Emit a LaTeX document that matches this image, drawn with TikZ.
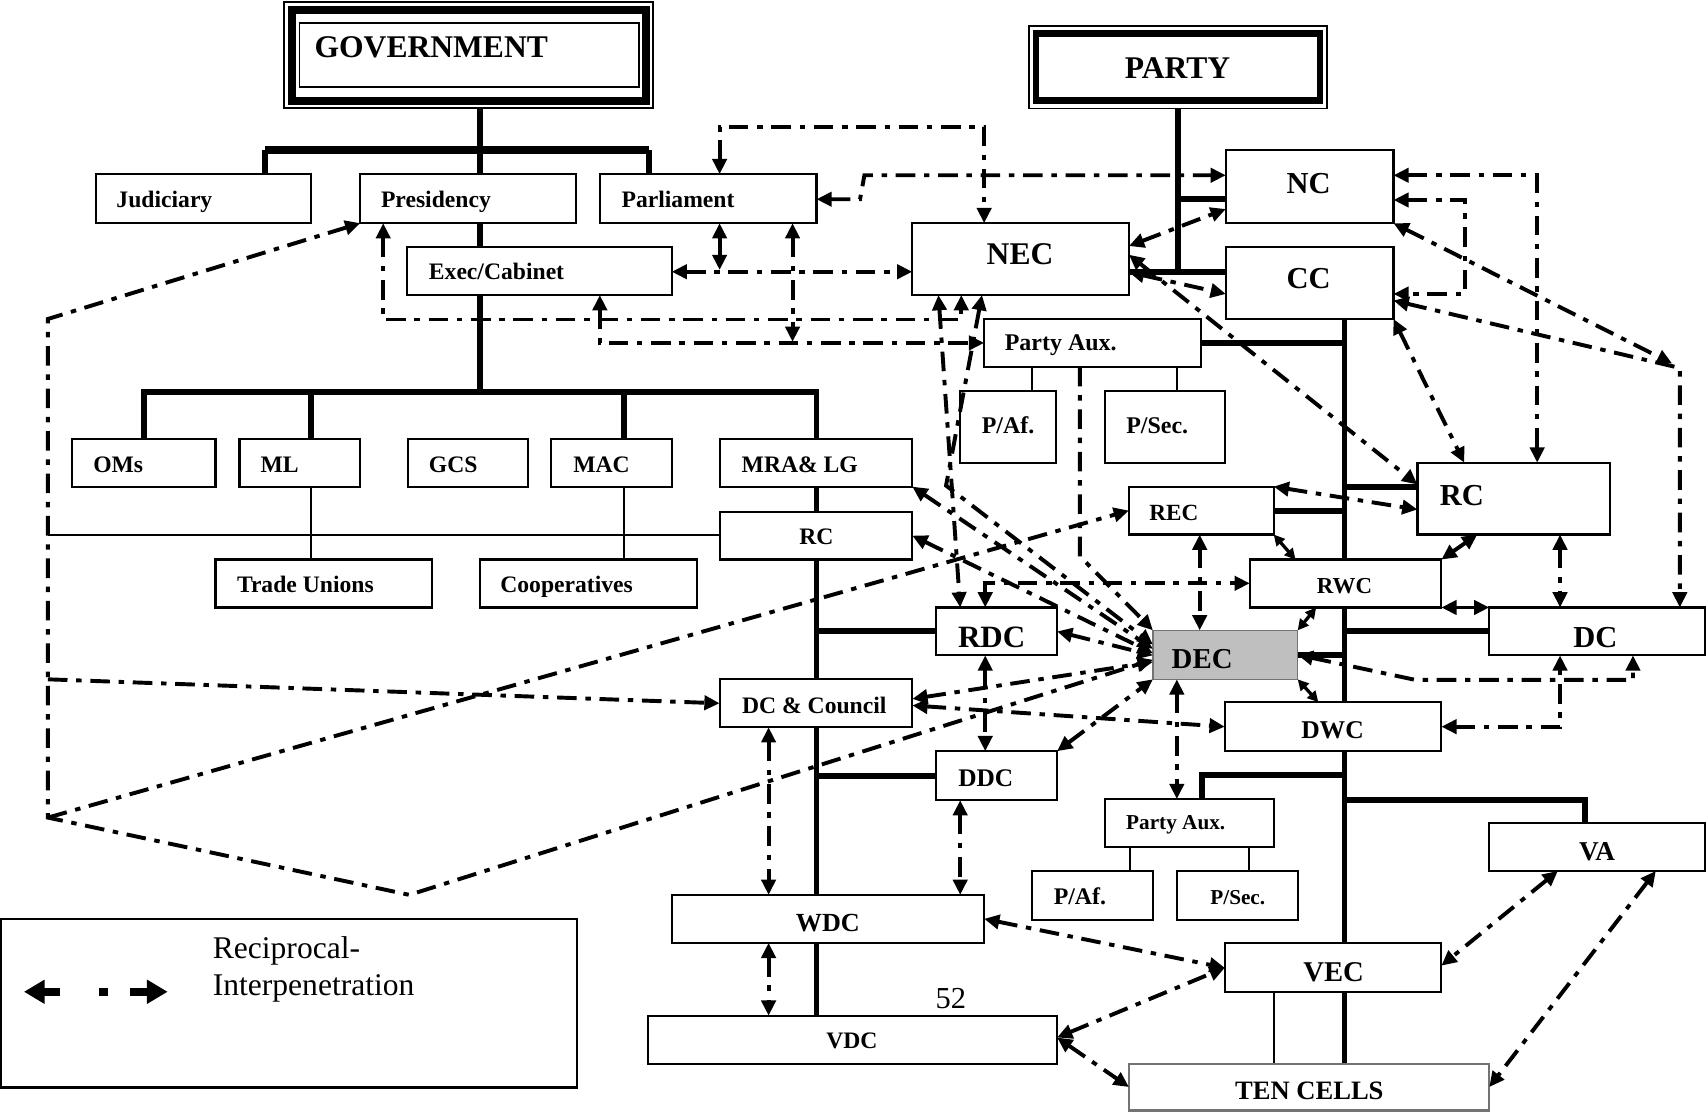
\documentclass[tikz,border=0pt]{standalone}
\usepackage{fontspec}
\setmainfont{Liberation Serif}
\usetikzlibrary{arrows.meta,fit,backgrounds}
\begin{document}
\begin{tikzpicture}[x=1pt,y=-1pt,
  box/.style={draw, line width=2pt, fill=white, inner sep=0pt, outer sep=0pt},
  trunk/.style={line width=5.5pt},
  tline/.style={line width=1.6pt},
  cn/.style={line width=3.6pt, dash pattern=on 18pt off 8pt on 5pt off 8pt},
  shortcn/.style={line width=3pt, >={Triangle[length=10pt,width=10pt]}},
  >={Triangle[length=14pt,width=13pt]},
  tb/.style={font=\fontsize{#1}{#1}\selectfont\bfseries, inner sep=0pt, outer sep=0pt},
  tr/.style={font=\fontsize{#1}{#1}\selectfont, inner sep=0pt, outer sep=0pt}]

\useasboundingbox (0,0) rectangle (1568,1021);

% ---------- heads ----------
\node[box, line width=1.5pt, fit={(261,2) (600,99)}] (gov) {};
\draw[line width=7pt] (268.5,9) rectangle (593.3,92.6);
\draw[line width=1.5pt] (275,21) rectangle (587,80);
\node[tb=29, anchor=base west] (gov-t) at (289,52.7) {GOVERNMENT};

\node[box, line width=1.5pt, fit={(945,24) (1219,99.5)}] (party) {};
\draw[line width=6pt] (951.5,31) rectangle (1212.5,92.5);
\node[tb=29, anchor=base] (party-t) at (1081.7,72) {PARTY};

% ---------- government side ----------
\node[box, fit={(88,160) (286,205)}] (jud) {};
\node[tb=21.7, anchor=base west] (jud-t) at (107,191) {Judiciary};
\node[box, fit={(331,160) (529,205)}] (pres) {};
\node[tb=21.7, anchor=base west] (pres-t) at (350,191) {Presidency};
\node[box, fit={(551,160) (750,205)}] (parl) {};
\node[tb=21.7, anchor=base west] (parl-t) at (571,191) {Parliament};
\node[box, fit={(374,227) (617,271)}] (exec) {};
\node[tb=21.7, anchor=base west] (exec-t) at (394,257) {Exec/Cabinet};

\node[box, fit={(66,403) (198,447)}] (oms) {};
\node[tb=21.7, anchor=base west] (oms-t) at (85.7,434) {OMs};
\node[box, fit={(220,403) (331,447)}] (ml) {};
\node[tb=21.7, anchor=base west] (ml-t) at (239.4,434) {ML};
\node[box, fit={(375,403) (485,447)}] (gcs) {};
\node[tb=21.7, anchor=base west] (gcs-t) at (394,434) {GCS};
\node[box, fit={(506,403) (617,447)}] (mac) {};
\node[tb=21.7, anchor=base west] (mac-t) at (526.6,434) {MAC};
\node[box, fit={(661,403) (838,447)}] (mra) {};
\node[tb=21.7, anchor=base west] (mra-t) at (681.3,434) {MRA\& LG};
\node[box, fit={(661,470) (838,514)}] (rcg) {};
\node[tb=21.7, anchor=base] (rcg-t) at (750,500) {RC};
\node[box, fit={(198,514) (397,558)}] (tu) {};
\node[tb=21.7, anchor=base west] (tu-t) at (217.7,544) {Trade Unions};
\node[box, fit={(441,514) (640,558)}] (coop) {};
\node[tb=21.7, anchor=base west] (coop-t) at (459.6,544) {Cooperatives};

\node[box, fit={(860,558) (971,602)}] (rdc) {};
\node[tb=28.5, anchor=base west] (rdc-t) at (880,595) {RDC};
\node[box, fit={(661,624) (838,668)}] (dcc) {};
\node[tb=21.7, anchor=base] (dcc-t) at (748,655) {DC \& Council};
\node[box, fit={(860,690) (971,735)}] (ddc) {};
\node[tb=23.3, anchor=base west] (ddc-t) at (880.3,722.7) {DDC};
\node[box, fit={(617,822) (904,866)}] (wdc) {};
\node[tb=24, anchor=base] (wdc-t) at (760.5,856) {WDC};
\node[box, fit={(595,933) (971,977)}] (vdc) {};
\node[tb=21.7, anchor=base] (vdc-t) at (782.5,963) {VDC};

% ---------- party side ----------
\node[box, fit={(838,205) (1037,271)}] (nec) {};
\node[tb=29, anchor=base] (nec-t) at (937,243.4) {NEC};
\node[box, fit={(1126,138) (1280,205)}] (nc) {};
\node[tb=28, anchor=base] (nc-t) at (1202,177.6) {NC};
\node[box, fit={(1126,227) (1280,293)}] (cc) {};
\node[tb=28, anchor=base] (cc-t) at (1202,265) {CC};
\node[box, fit={(904,293) (1103,337)}] (paux) {};
\node[tb=22, anchor=base west] (paux-t) at (923,322) {Party Aux.};
\node[box, fit={(882,359) (970,425)}] (paf) {};
\node[tb=22, anchor=base] (paf-t) at (926,398) {P/Af.};
\node[box, fit={(1015,359) (1125,425)}] (psec) {};
\node[tb=22, anchor=base] (psec-t) at (1063,398) {P/Sec.};

\node[box, fit={(1037,447) (1170,491)}] (rec) {};
\node[tb=21.3, anchor=base west] (rec-t) at (1055.8,478) {REC};
\node[box, fit={(1302,425) (1479,491)}] (rcp) {};
\node[tb=28, anchor=base west] (rcp-t) at (1322.5,464) {RC};
\node[box, fit={(1148,514) (1324,558)}] (rwc) {};
\node[tb=21, anchor=base] (rwc-t) at (1235,545) {RWC};
\node[box, fill=black!25, draw=black!55, line width=1.2pt, fit={(1059,579) (1192,624)}] (dec) {};
\node[tb=26.5, anchor=base west] (dec-t) at (1076.3,613.6) {DEC};
\node[box, fit={(1368,558) (1566,602)}] (dcp) {};
\node[tb=28, anchor=base] (dcp-t) at (1465.5,595) {DC};
\node[box, fit={(1125,645) (1324,690)}] (dwc) {};
\node[tb=23.5, anchor=base] (dwc-t) at (1224,678) {DWC};
\node[box, fit={(1015,734) (1170,778)}] (paux2) {};
\node[tb=19.5, anchor=base] (paux2-t) at (1080,762) {Party Aux.};
\node[box, fit={(948,800) (1059,845)}] (paf2) {};
\node[tb=21.9, anchor=base] (paf2-t) at (992,831) {P/Af.};
\node[box, fit={(1081,800) (1192,845)}] (psec2) {};
\node[tb=19.5, anchor=base] (psec2-t) at (1137,831) {P/Sec.};
\node[box, fit={(1368,756) (1566,800)}] (va) {};
\node[tb=25, anchor=base] (va-t) at (1467,790) {VA};
\node[box, fit={(1125,866) (1324,911)}] (vec) {};
\node[tb=26.3, anchor=base] (vec-t) at (1225,901.8) {VEC};
\node[box, draw=black!55, fit={(1037,977) (1368,1020)}] (ten) {};
\node[tb=24.4, anchor=base] (ten-t) at (1202.7,1009.6) {TEN CELLS};

\node[tr=28, anchor=base] (page) at (873.5,926) {52};

% ---------- legend ----------
\node[box, fit={(1,844) (530,999)}] (leg) {};
\node[tr=29, anchor=base west] (leg-t1) at (195.5,880) {Reciprocal-};
\node[tr=29, anchor=base west] (leg-t2) at (195.5,914) {Interpenetration};
\coordinate (lgA) at (22,911);
\coordinate (lgB) at (154,911);
\draw[line width=7pt, {Triangle[length=19pt,width=21pt]}-{Triangle[length=19pt,width=21pt]},
      dash pattern=on 15pt off 36pt on 8pt off 21pt on 40pt] (lgA) -- (lgB);

% ---------- hierarchy lines ----------
\begin{scope}[on background layer]
\draw[trunk] (441,0 |- gov.south) -- (441,359.8);
\draw[trunk, line width=7pt] (243.4,138) -- (596,138);
\draw[trunk] (243.4,0 |- jud.north) -- (243.4,138);
\draw[trunk] (596,138) -- (596,0 |- parl.north);
\draw[trunk] (132,0 |- oms.north) -- (132,359.8) -- (750,359.8) -- (750,0 |- mra.north);
\draw[trunk] (286,359.8) -- (286,0 |- ml.north);
\draw[trunk] (573.5,359.8) -- (573.5,0 |- mac.north);
\draw[trunk] (750,0 |- mra.south) -- (750,0 |- vdc.north);
\draw[trunk] (750,580) -- (rdc.west |- 0,580);
\draw[trunk] (750,712.5) -- (ddc.west |- 0,712.5);

\draw[trunk] (1081.7,0 |- party.south) -- (1081.7,249.6);
\draw[trunk] (1081.7,183) -- (nc.west |- 0,183);
\draw[trunk] (nec.east |- 0,249.6) -- (cc.west |- 0,249.6);
\draw[trunk] (1235,0 |- cc.south) -- (1235,0 |- ten.north);
\draw[trunk] (paux.east) -- (1235,0 |- paux.east);
\draw[trunk] (1235,447) -- (rcp.west |- 0,447);
\draw[trunk] (rec.east) -- (1235,0 |- rec.east);
\draw[trunk] (1235,580) -- (dcp.west);
\draw[trunk] (dec.east) -- (1235,0 |- dec.east);
\draw[trunk] (1235,712) -- (1104,712) -- (1104,0 |- paux2.north);
\draw[trunk] (1235,735) -- (1456,735) -- (1456,0 |- va.north);

\draw[tline] (286,0 |- ml.south) -- (286,0 |- tu.north);
\draw[tline] (573.5,0 |- mac.south) -- (573.5,0 |- coop.north);
\draw[tline] (44,491.5) -- (rcg.west |- 0,491.5);
\draw[tline] (948,0 |- paux.south) -- (948,0 |- paf.north);
\draw[tline] (1081,0 |- paux.south) -- (1081,0 |- psec.north);
\draw[tline] (1038,0 |- paux2.south) -- (1038,0 |- paf2.north);
\draw[tline] (1147,0 |- paux2.south) -- (1147,0 |- psec2.north);
\draw[tline] (1170,0 |- vec.south) -- (1170,0 |- ten.north);
\end{scope}

% ---------- reciprocal links ----------
\draw[cn,<->] (661,0 |- parl.north) -- (661,116.4) -- (904,116.4) -- (904,0 |- nec.north);
\draw[cn,<->] (parl.east |- 0,183) -- (790,183) -- (794,161) -- (nc.west |- 0,161);
\draw[cn,<->] (exec.east |- 0,249.6) -- (nec.west |- 0,249.6);
\draw[cn,<->] (661,0 |- parl.south) -- (661,248);
\draw[cn,<->] (728,0 |- parl.south) -- (728,314);
\draw[cn,<->] (551,0 |- exec.south) -- (551,315) -- (paux.west);
\draw[cn,<->] (352,0 |- pres.south) -- (352,293.5) -- (883,293.5) -- (883,0 |- nec.south);
\draw[cn,<->] (862,0 |- nec.south) -- (882,0 |- rdc.north);
\draw[cn,<->] (902,0 |- nec.south) -- (869,446) -- (dec.west |- 0,592);
\draw[cn,<->] (mra.south east) -- (dec.west |- 0,596);
\draw[cn,<->] (rcg.east) -- (dec.west |- 0,600);
\draw[cn,->] (992,0 |- paux.south) -- (992,511) -- (dec.north west);
\draw[cn,<->] (rdc.east |- 0,580) -- (dec.west |- 0,602);
\draw[cn,<->] (pres.south west) -- (44,293) -- (44,751) -- (376,822) -- (dec.west |- 0,606);
\draw[cn,->] (44,624) -- (dcc.west);
\draw[cn,->] (44,751) -- (rec.west);
\draw[cn,<->] (dcc.east |- 0,642) -- (dec.west |- 0,608);
\draw[cn,<->] (dcc.east |- 0,648) -- (dwc.west);
\draw[cn,<->] (ddc.north east) -- (dec.south west);
\draw[cn,<->] (1102,0 |- rec.south) -- (1102,0 |- dec.north);
\draw[cn,<->] (1081,0 |- dec.south) -- (1081,0 |- paux2.north);
\draw[cn,shortcn,<->] (rec.south east) -- (1190,0 |- rwc.north);
\draw[cn,shortcn,<->] (1209,0 |- rwc.south) -- (dec.north east);
\draw[cn,shortcn,<->] (dec.south east) -- (1211,0 |- dwc.north);
\draw[cn,<->] (dec.east) -- (1300,624.5) -- (1500,624.5) -- (1500,0 |- dcp.south);
\draw[cn,<->] (dwc.east) -- (1433,0 |- dwc.east) -- (1433,0 |- dcp.south);
\draw[cn,<->] (1433,0 |- rcp.south) -- (1433,0 |- dcp.north);
\draw[cn,<->] (1357,0 |- rcp.south) -- (rwc.north east);
\draw[cn,<->] (rwc.south east) -- (dcp.north west);
\draw[cn,<->] (rec.north east) -- (rcp.west |- 0,468);
\draw[cn,<->] (nc.east |- 0,161) -- (1412,161) -- (1412,0 |- rcp.north);
\draw[cn,<->] (nc.east |- 0,183.7) -- (1346,183.7) -- (1346,270) -- (cc.east |- 0,270);
\draw[cn,<->] (nc.south east) -- (1536,334);
\draw[cn,<->] (cc.east |- 0,276) -- (1543,338) -- (1543,0 |- dcp.north);
\draw[cn,<->] (cc.south east) -- (1345,0 |- rcp.north);
\draw[cn,<->] (nec.east |- 0,234) -- (rcp.west |- 0,445);
\draw[cn,<->] (nec.east |- 0,226) -- (nc.west |- 0,192);
\draw[cn,<->] (nec.east |- 0,250) -- (cc.west |- 0,270);
\draw[cn,<->] (905,0 |- rdc.north) -- (905,535.8) -- (rwc.west |- 0,535.8);
\draw[cn,<->] (905,0 |- rdc.south) -- (905,0 |- ddc.north);
\draw[cn,<->] (706,0 |- dcc.south) -- (706,0 |- wdc.north);
\draw[cn,<->] (882,0 |- ddc.south) -- (882,0 |- wdc.north);
\draw[cn,<->] (706,0 |- wdc.south) -- (706,0 |- vdc.north);
\draw[cn,<->] (wdc.east) -- (vec.west |- 0,889);
\draw[cn,<->] (vdc.east |- 0,953) -- (vec.west |- 0,889);
\draw[cn,<->] (vdc.east |- 0,953) -- (ten.west);
\draw[cn,<->] (1431,0 |- va.south) -- (vec.east |- 0,887);
\draw[cn,<->] (1521,0 |- va.south) -- (ten.east);
\end{tikzpicture}
\end{document}
